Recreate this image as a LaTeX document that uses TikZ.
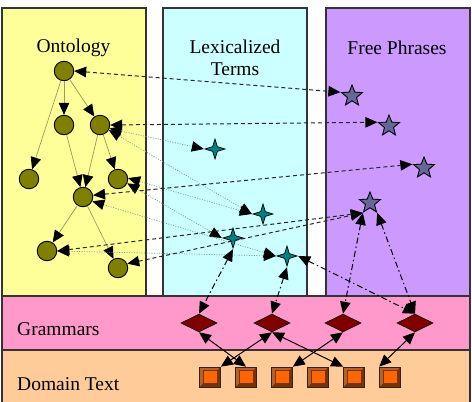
\documentclass[tikz,border=0pt]{standalone}
\usepackage{fontspec}
\setmainfont{Liberation Serif}
\usetikzlibrary{shapes.geometric,arrows.meta}
\definecolor{ontoY}{HTML}{FFFF99}
\definecolor{lexC}{HTML}{CCFFFF}
\definecolor{freeV}{HTML}{CC99FF}
\definecolor{gramP}{HTML}{FF99CC}
\definecolor{domO}{HTML}{FFCC99}
\definecolor{olv}{HTML}{808000}
\definecolor{stb}{HTML}{666699}
\definecolor{tl}{HTML}{008080}
\definecolor{mrn}{HTML}{800000}
\definecolor{org}{HTML}{FF6600}
\definecolor{bevL}{HTML}{B8602A}
\definecolor{bevD}{HTML}{7A3300}
\definecolor{treeC}{HTML}{9C9C5A}
\definecolor{dotC}{HTML}{6E9A9A}
\definecolor{frameC}{HTML}{333333}
\begin{document}
\begin{tikzpicture}[x=1pt,y=-1pt,
  >={Triangle[length=12pt,width=10.5pt,color=black]},
  panel/.style={draw=frameC, line width=1.5pt},
  lbl/.style={font=\fontsize{19.5}{22}\selectfont, align=center, inner sep=0pt},
  circ/.style={circle, draw=black, fill=olv, minimum size=19.5pt, inner sep=0pt, line width=0.9pt},
  fstar/.style={star, star points=5, star point ratio=2.3, draw=black, fill=stb, minimum size=22pt, inner sep=0pt, line width=0.9pt},
  lstar/.style={star, star points=4, star point ratio=3, draw=black, fill=tl, minimum size=20pt, inner sep=0pt, line width=0.7pt},
  gram/.style={diamond, draw=black, fill=mrn, minimum width=36pt, minimum height=18pt, inner sep=0pt, line width=0.6pt},
  sq/.style={rectangle, draw=black!85, fill=bevL, minimum width=21pt, minimum height=20pt, inner sep=0pt, line width=0.6pt,
    path picture={
      \fill[bevD] (path picture bounding box.south west) -- (path picture bounding box.south east)
        -- (path picture bounding box.north east)
        -- ([shift={(-3.5pt,-3.5pt)}]path picture bounding box.north east)
        -- ([shift={(-3.5pt,3.5pt)}]path picture bounding box.south east)
        -- ([shift={(3.5pt,3.5pt)}]path picture bounding box.south west) -- cycle;
      \draw[fill=org, draw=bevD, line width=0.5pt] ([shift={(3.5pt,3.5pt)}]path picture bounding box.south west)
        rectangle ([shift={(-3.5pt,-3.5pt)}]path picture bounding box.north east);
    }},
  dsh/.style={<->, draw=black!85, line width=1pt, dash pattern=on 4pt off 3pt},
  dtt/.style={<->, draw=dotC, line width=0.7pt, dash pattern=on 1pt off 1.5pt},
  ddot/.style={<->, draw=black, line width=1pt, dash pattern=on 6pt off 3pt on 1.5pt off 3pt},
  sld/.style={<->, draw=black, line width=1pt},
  tre/.style={->, draw=treeC, line width=0.7pt}
]
\useasboundingbox (0,0) rectangle (472,402);
\fill[white] (0,0) rectangle (472,402);
% panels
\draw[panel, fill=ontoY] (2,8) rectangle (146,296);
\draw[panel, fill=lexC] (163,8) rectangle (307,296);
\draw[panel, fill=freeV] (326,8) rectangle (470,296);
\draw[panel, fill=gramP] (2,296) rectangle (470,350);
\draw[panel, fill=domO] (2,350) rectangle (470,410);
% labels
\node[lbl] (tOnto) at (73.5,48) {Ontology};
\node[lbl] (tLex) at (235,58) {Lexicalized\\Terms};
\node[lbl] (tFree) at (397,48) {Free Phrases};
\node[lbl, anchor=west] (tGram) at (17,329) {Grammars};
\node[lbl, anchor=west] (tDom) at (17,384) {Domain Text};
% ontology concepts
\node[circ] (A) at (64,71) {};
\node[circ] (B) at (64,125) {};
\node[circ] (C) at (100,125) {};
\node[circ] (D) at (29,179) {};
\node[circ] (E) at (118,179) {};
\node[circ] (F) at (83,197) {};
\node[circ] (G) at (47,251) {};
\node[circ] (H) at (118,268) {};
% free phrases
\node[fstar] (P1) at (352,96) {};
\node[fstar] (P2) at (389,126) {};
\node[fstar] (P3) at (424,168) {};
\node[fstar] (P4) at (370,203) {};
% lexicalized terms
\node[lstar] (T1) at (215,149) {};
\node[lstar] (T2) at (263,214) {};
\node[lstar] (T3) at (233,238) {};
\node[lstar] (T4) at (287,256) {};
% grammars
\node[gram] (R1) at (199,323) {};
\node[gram] (R2) at (272,323) {};
\node[gram] (R3) at (343,323) {};
\node[gram] (R4) at (415,323) {};
% domain text
\node[sq] (Q1) at (210,377) {};
\node[sq] (Q2) at (246,377) {};
\node[sq] (Q3) at (282,377) {};
\node[sq] (Q4) at (318,377) {};
\node[sq] (Q5) at (354,377) {};
\node[sq] (Q6) at (390,377) {};
% ontology tree
\draw[tre] (A) -- (B);
\draw[tre] (A) -- (C);
\draw[tre] (A) -- (D);
\draw[tre] (B) -- (F);
\draw[tre] (C) -- (F);
\draw[tre] (C) -- (E);
\draw[tre] (F) -- (G);
\draw[tre] (F) -- (H);
% ontology <-> lexicalized terms
\draw[dtt] (C.-20) -- (T1.180);
\draw[dtt] (C.-30) -- (T2.180);
\draw[dtt] (E.5) -- (T2.180);
\draw[dtt] (E.-25) -- (T3.180);
\draw[dtt] (F.-25) -- (T4.180);
\draw[dtt] (G.0) -- (T4.180);
% ontology <-> free phrases
\draw[dsh] (A.0) -- (P1.162);
\draw[dsh] (C.0) -- (P2.162);
\draw[dsh] (F.10) -- (P3.162);
\draw[dsh] (G.0) -- (P4.234);
\draw[dsh] (H.25) -- (P4.234);
% terms / phrases <-> grammars
\draw[ddot] (T3.270) -- (R1.north);
\draw[ddot] (T4.270) -- (R2.north);
\draw[ddot] (T4.0) -- (R4.north);
\draw[ddot] (P4.234) -- (R3.north);
\draw[ddot] (P4.306) -- (R4.north);
% grammars <-> domain text
\draw[sld] (R1.south) -- (Q2.north);
\draw[sld] (R2.south) -- (Q1.north east);
\draw[sld] (R2.south) -- (Q5.north west);
\draw[sld] (R3.south) -- (Q3.north east);
\draw[sld] (R4.south) -- (Q6.north west);
\end{tikzpicture}
\end{document}
